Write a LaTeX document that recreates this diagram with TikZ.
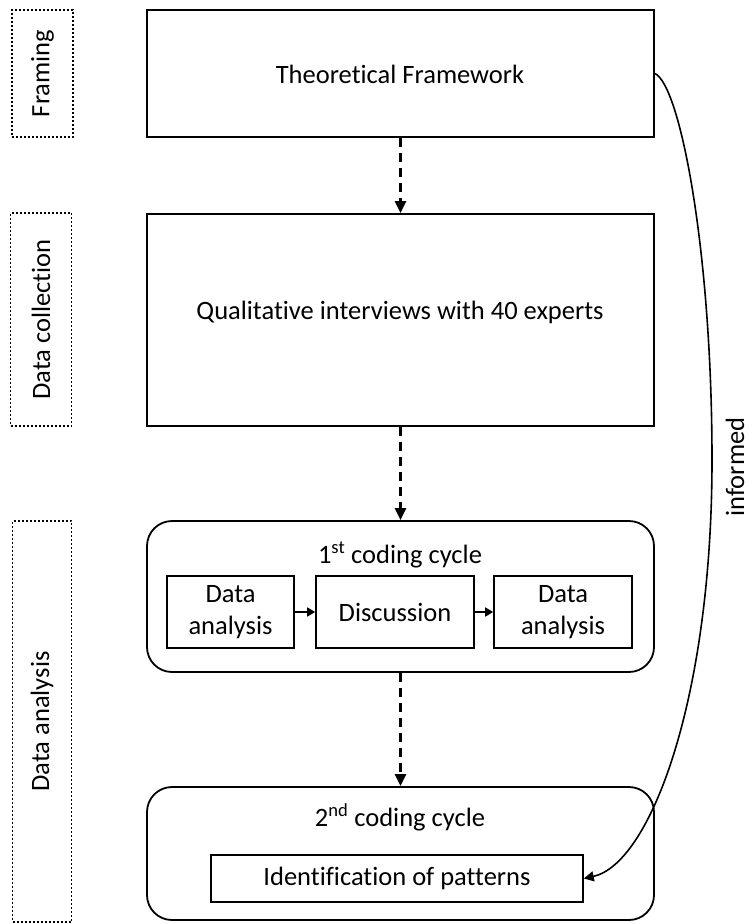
\documentclass[tikz,border=0pt]{standalone}
\usepackage{fontspec}
\setmainfont[Ligatures=NoCommon]{Carlito}
\usetikzlibrary{arrows.meta}
\tikzset{
  mainbox/.style={draw, line width=1.8pt, inner sep=0pt},
  roundbox/.style={draw, line width=1.8pt, rounded corners=25pt, inner sep=0pt},
  innerbox/.style={draw, line width=1.6pt, inner sep=0pt, align=center},
  sidebox/.style={draw, line width=1.8pt, dash pattern=on 2pt off 2pt, inner sep=0pt},
  sidelabel/.style={rotate=90},
  dasharrow/.style={line width=2.4pt, dash pattern=on 9pt off 6pt, -{Triangle[length=12pt,width=11pt]}},
  smallarrow/.style={line width=1.5pt, -{Triangle[length=8pt,width=9pt]}},
  curvearrow/.style={line width=1.6pt, -{Triangle[length=10pt,width=10pt]}},
}
\begin{document}
\begin{tikzpicture}[x=1pt,y=-1pt, font=\fontsize{26.5}{32}\selectfont]
\useasboundingbox (0,0) rectangle (749,924);

% side labels
\node[sidebox, minimum width=61, minimum height=127] (fr) at (42.5,73.5) {};
\node[sidelabel] (frl) at (fr.center) {Framing};
\node[sidebox, minimum width=61, minimum height=213] (dcs) at (41,319.5) {};
\node[sidelabel] (dcl) at (dcs.center) {Data collection};
\node[sidebox, minimum width=59, minimum height=401] (das) at (42,721.5) {};
\node[sidelabel] (dal) at (das.center) {Data analysis};

% main boxes
\node[mainbox, minimum width=507, minimum height=127] (tf) at (400.5,73.5) {};
\node (tft) at (400,74) {Theoretical Framework};
\node[mainbox, minimum width=507, minimum height=212] (dc) at (400.5,320) {};
\node (dct) at (400,312) {Qualitative interviews with 40 experts};

% 1st coding cycle
\node[roundbox, minimum width=507, minimum height=151] (c1) at (400.5,596.5) {};
\node[anchor=base] (c1t) at (400,563) {1\textsuperscript{st} coding cycle};
\node[innerbox, minimum width=127, minimum height=72] (da1) at (230.5,612) {Data\\analysis};
\node[innerbox, minimum width=158, minimum height=72] (disc) at (395,612) {Discussion};
\node[innerbox, minimum width=138, minimum height=72] (da2) at (563,612) {Data\\analysis};

% 2nd coding cycle
\node[roundbox, minimum width=507, minimum height=133] (c2) at (400.5,853.5) {};
\node[anchor=base] (c2t) at (400,826) {2\textsuperscript{nd} coding cycle};
\node[innerbox, minimum width=372, minimum height=47] (ip) at (397,878.5) {Identification of patterns};

% connectors
\draw[dasharrow] (tf.south) -- (dc.north);
\draw[dasharrow] (dc.south) -- (c1.north);
\draw[dasharrow] (c1.south) -- (c2.north);
\draw[smallarrow] (da1.east) -- (disc.west);
\draw[smallarrow] (disc.east) -- (da2.west);
\draw[curvearrow] (tf.east) .. controls (680,85) and (712,250) .. (712,460)
  coordinate (mid) .. controls (712,700) and (650,864) .. (ip.east);
\node[rotate=90, inner sep=0pt] (inf) at (735,467) {informed};
\end{tikzpicture}
\end{document}
